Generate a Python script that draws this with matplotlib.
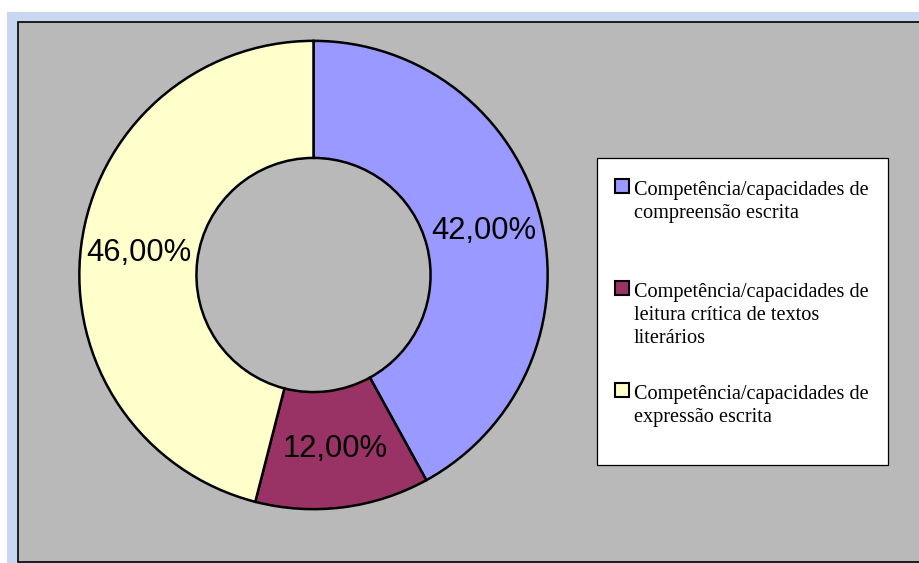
import matplotlib.pyplot as plt
from matplotlib.patches import Rectangle

# --[Data]---------------------------------------------------------------------
categories = [
    'Competência/capacidades de\ncompreensão escrita',
    'Competência/capacidades de\nleitura crítica de textos\nliterários',
    'Competência/capacidades de\nexpressão escrita',
]
values = [42.0, 12.0, 46.0]
colors = ['#9999FF', '#993366', '#FFFFCC']

W, H = 920, 563


def fx(px):
    return px / W


def fy(py):
    return 1 - py / H


fig = plt.figure(figsize=(W / 100, H / 100), dpi=100)
fig.patch.set_facecolor('white')

# --[Background and chart panel]-----------------------------------------------
fig.add_artist(Rectangle((fx(7), fy(563)), fx(W) - fx(7), fy(12) - fy(563),
                         transform=fig.transFigure, facecolor='#C9D6EF',
                         edgecolor='none', zorder=0))
fig.add_artist(Rectangle((fx(18), fy(562)), 1.0, fy(22) - fy(562),
                         transform=fig.transFigure, facecolor='#B9B9B9',
                         edgecolor='black', linewidth=1.2, zorder=1))

# --[Doughnut]-----------------------------------------------------------------
cx, cy, r = 313.5, 275, 236.5
ax = fig.add_axes([fx(cx - r), fy(cy + r), (2 * r) / W, (2 * r) / H])
wedges, texts, autotexts = ax.pie(
    values, colors=colors, startangle=90, counterclock=False, radius=1.0,
    autopct=lambda p: '{:.2f}%'.format(p).replace('.', ','),
    pctdistance=0.75,
    wedgeprops=dict(width=0.5, edgecolor='black', linewidth=1.8),
    textprops=dict(family='Liberation Sans', fontsize=22.3, color='black'),
)
ax.set_xlim(-1.01, 1.01)
ax.set_ylim(-1.01, 1.01)
ax.set_aspect('equal')
ax.axis('off')
ax.set_zorder(2)

# --[Legend]-------------------------------------------------------------------
fig.add_artist(Rectangle((fx(597), fy(465)), fx(888) - fx(597), fy(158) - fy(465),
                         transform=fig.transFigure, facecolor='white',
                         edgecolor='black', linewidth=0.9, zorder=3))
first_baselines = [195, 297, 399]
line_step = 23
for label, color, base in zip(categories, colors, first_baselines):
    fig.add_artist(Rectangle((fx(615), fy(base - 2)), fx(629) - fx(615),
                             fy(179) - fy(193), transform=fig.transFigure,
                             facecolor=color, edgecolor='black', linewidth=1.5,
                             zorder=4))
    for i, line in enumerate(label.split('\n')):
        fig.text(fx(634), fy(base + i * line_step), line, family='Liberation Serif',
                 fontsize=14.6, va='baseline', ha='left', zorder=5)

fig.savefig('out.png', dpi=100)
